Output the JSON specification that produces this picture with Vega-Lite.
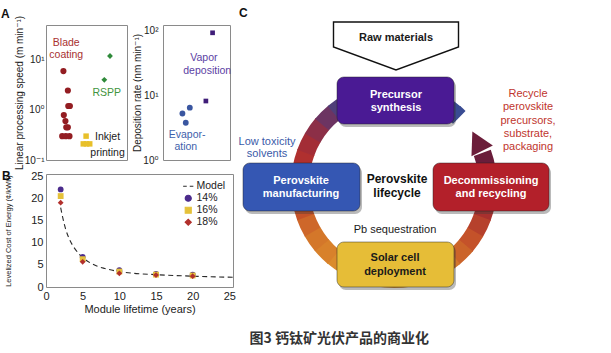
{
  "$schema": "https://vega.github.io/schema/vega-lite/v6.json",
  "padding": {"left": 0, "top": 7, "right": 2, "bottom": 4},
  "background": "white",
  "config": {
    "font": "Liberation Sans, Arial, Helvetica, DejaVu Sans, sans-serif",
    "view": {"stroke": "#8a8a8a", "strokeWidth": 1},
    "axis": {"domain": false, "ticks": false, "grid": false, "labelColor": "#222222", "titleColor": "#222222", "titleFontWeight": "normal", "labelFlush": false}
  },
  "title": {"text": "图3 钙钛矿光伏产品的商业化", "orient": "bottom", "anchor": "middle", "dx": 36, "offset": 17, "font": "Noto Sans CJK SC", "fontSize": 14, "fontWeight": "bold", "color": "#333333"},
  "datasets": {
    "speed": [
      {"kind": "pt", "method": "Blade coating", "x": 2.15, "v": 6.0},
      {"kind": "pt", "method": "Blade coating", "x": 2.7, "v": 2.45},
      {"kind": "pt", "method": "Blade coating", "x": 2.75, "v": 1.2},
      {"kind": "pt", "method": "Blade coating", "x": 2.95, "v": 1.2},
      {"kind": "pt", "method": "Blade coating", "x": 2.2, "v": 0.79},
      {"kind": "pt", "method": "Blade coating", "x": 2.4, "v": 0.6},
      {"kind": "pt", "method": "Blade coating", "x": 2.5, "v": 0.45},
      {"kind": "pt", "method": "Blade coating", "x": 2.7, "v": 0.45},
      {"kind": "pt", "method": "Blade coating", "x": 2.0, "v": 0.3},
      {"kind": "pt", "method": "Blade coating", "x": 2.45, "v": 0.3},
      {"kind": "pt", "method": "Blade coating", "x": 2.9, "v": 0.3},
      {"kind": "pt", "method": "RSPP", "x": 7.9, "v": 12},
      {"kind": "pt", "method": "RSPP", "x": 7.2, "v": 4.0},
      {"kind": "pt", "method": "Inkjet printing", "x": 4.95, "v": 0.3},
      {"kind": "pt", "method": "Inkjet printing", "x": 4.6, "v": 0.21},
      {"kind": "pt", "method": "Inkjet printing", "x": 5.0, "v": 0.21},
      {"kind": "pt", "method": "Inkjet printing", "x": 5.4, "v": 0.21},
      {"kind": "lbl", "method": "Blade coating", "label": "Blade", "x": 2.5, "v": 21.9},
      {"kind": "lbl", "method": "Blade coating", "label": "coating", "x": 2.5, "v": 12.6},
      {"kind": "lbl", "method": "RSPP", "label": "RSPP", "x": 7.5, "v": 2.19},
      {"kind": "lbl", "method": "Inkjet printing", "label": "Inkjet", "x": 7.6, "v": 0.288},
      {"kind": "lbl", "method": "Inkjet printing", "label": "printing", "x": 7.6, "v": 0.138}
    ],
    "rate": [
      {"kind": "pt", "method": "Vapor deposition", "x": 7.4, "v": 91},
      {"kind": "pt", "method": "Vapor deposition", "x": 6.4, "v": 8.1},
      {"kind": "pt", "method": "Evaporation", "x": 2.9, "v": 5.2},
      {"kind": "pt", "method": "Evaporation", "x": 4.0, "v": 6.4},
      {"kind": "pt", "method": "Evaporation", "x": 3.4, "v": 3.75},
      {"kind": "lbl", "method": "Vapor deposition", "label": "Vapor", "x": 6.1, "v": 37},
      {"kind": "lbl", "method": "Vapor deposition", "label": "deposition", "x": 6.6, "v": 23.3},
      {"kind": "lbl", "method": "Evaporation", "label": "Evapor-", "x": 3.6, "v": 2.42},
      {"kind": "lbl", "method": "Evaporation", "label": "ation", "x": 3.4, "v": 1.58}
    ],
    "lcoe": [
      {"series": "Model", "yr": 2, "c": 18.0},
      {"series": "Model", "yr": 2.3, "c": 15.6},
      {"series": "Model", "yr": 2.7, "c": 13.0},
      {"series": "Model", "yr": 3.2, "c": 10.8},
      {"series": "Model", "yr": 3.8, "c": 9.0},
      {"series": "Model", "yr": 4.5, "c": 7.5},
      {"series": "Model", "yr": 5.2, "c": 6.4},
      {"series": "Model", "yr": 6, "c": 5.5},
      {"series": "Model", "yr": 7, "c": 4.7},
      {"series": "Model", "yr": 8, "c": 4.2},
      {"series": "Model", "yr": 10, "c": 3.5},
      {"series": "Model", "yr": 12, "c": 3.1},
      {"series": "Model", "yr": 15, "c": 2.8},
      {"series": "Model", "yr": 20, "c": 2.45},
      {"series": "Model", "yr": 25.5, "c": 2.2},
      {"series": "14%", "yr": 2, "c": 22.1},
      {"series": "14%", "yr": 5, "c": 6.8},
      {"series": "14%", "yr": 10, "c": 3.8},
      {"series": "14%", "yr": 15, "c": 2.95},
      {"series": "14%", "yr": 20, "c": 2.8},
      {"series": "16%", "yr": 2, "c": 20.6},
      {"series": "16%", "yr": 5, "c": 6.3},
      {"series": "16%", "yr": 10, "c": 3.5},
      {"series": "16%", "yr": 15, "c": 2.8},
      {"series": "16%", "yr": 20, "c": 2.6},
      {"series": "18%", "yr": 2, "c": 19.1},
      {"series": "18%", "yr": 5, "c": 5.7},
      {"series": "18%", "yr": 10, "c": 3.1},
      {"series": "18%", "yr": 15, "c": 2.7},
      {"series": "18%", "yr": 20, "c": 2.45}
    ],
    "ring": [
      {"t1": 70, "t2": 80.5}, {"t1": 80, "t2": 90.5}, {"t1": 90, "t2": 100.5}, {"t1": 100, "t2": 110.5},
      {"t1": 110, "t2": 120.5}, {"t1": 120, "t2": 130.5}, {"t1": 130, "t2": 140.5}, {"t1": 140, "t2": 150.5},
      {"t1": 150, "t2": 160.5}, {"t1": 160, "t2": 170.5}, {"t1": 170, "t2": 180.5}, {"t1": 180, "t2": 190.5},
      {"t1": 190, "t2": 200.5}, {"t1": 200, "t2": 210.5}, {"t1": 210, "t2": 220.5}, {"t1": 220, "t2": 230.5},
      {"t1": 230, "t2": 240.5}, {"t1": 240, "t2": 250.5}, {"t1": 250, "t2": 260.5}, {"t1": 260, "t2": 270.5},
      {"t1": 270, "t2": 280.5}, {"t1": 280, "t2": 290.5}, {"t1": 290, "t2": 300.5}, {"t1": 300, "t2": 310.5},
      {"t1": 310, "t2": 320.5}, {"t1": 320, "t2": 330.5}, {"t1": 330, "t2": 340.5}, {"t1": 340, "t2": 350.5},
      {"t1": 350, "t2": 360.5}, {"t1": 360, "t2": 370.5}, {"t1": 370, "t2": 380.5}, {"t1": 380, "t2": 390.5},
      {"t1": 390, "t2": 400.5}, {"t1": 400, "t2": 404}
    ],
    "head": [{"x": 239.8, "y": 135.3}],
    "inputs": [{"name": "Raw materials", "x": 158, "y": 39}],
    "boxes": [
      {"stage": "Precursor synthesis", "x1": 99, "x2": 216, "y1": 70, "y2": 117},
      {"stage": "Perovskite manufacturing", "x1": 5, "x2": 122, "y1": 156, "y2": 204},
      {"stage": "Decommissioning and recycling", "x1": 195, "x2": 311, "y1": 156, "y2": 204},
      {"stage": "Solar cell deployment", "x1": 99, "x2": 216, "y1": 235, "y2": 280}
    ],
    "notes": [
      {"g": "white", "t": "Precursor", "x": 158, "y": 88},
      {"g": "white", "t": "synthesis", "x": 158, "y": 101},
      {"g": "white", "t": "Perovskite", "x": 63, "y": 174},
      {"g": "white", "t": "manufacturing", "x": 63, "y": 187},
      {"g": "white", "t": "Decommissioning", "x": 253, "y": 174},
      {"g": "white", "t": "and recycling", "x": 253, "y": 187},
      {"g": "dark", "t": "Solar cell", "x": 157, "y": 251},
      {"g": "dark", "t": "deployment", "x": 157, "y": 265},
      {"g": "dark", "t": "Raw materials", "x": 158, "y": 31},
      {"g": "center", "t": "Perovskite", "x": 159, "y": 172},
      {"g": "center", "t": "lifecycle", "x": 159, "y": 186},
      {"g": "plain", "t": "Pb sequestration", "x": 157, "y": 223},
      {"g": "blue", "t": "Low toxicity", "x": 29, "y": 135},
      {"g": "blue", "t": "solvents", "x": 29, "y": 147},
      {"g": "red", "t": "Recycle", "x": 290, "y": 87},
      {"g": "red", "t": "perovskite", "x": 290, "y": 100},
      {"g": "red", "t": "precursors,", "x": 290, "y": 114},
      {"g": "red", "t": "substrate,", "x": 290, "y": 127},
      {"g": "red", "t": "packaging", "x": 290, "y": 140},
      {"g": "panel", "t": "C", "x": 1, "y": 6}
    ]
  },
  "spacing": 2,
  "resolve": {"scale": {"color": "independent", "shape": "independent", "size": "independent", "fill": "independent"}, "legend": {"color": "independent", "shape": "independent", "size": "independent", "fill": "independent"}},
  "hconcat": [
    {
      "spacing": -2,
      "resolve": {"scale": {"color": "independent", "shape": "independent", "size": "independent"}, "legend": {"color": "independent", "shape": "independent", "size": "independent"}},
      "vconcat": [
        {
          "spacing": 36,
          "bounds": "flush",
          "resolve": {"scale": {"color": "independent", "shape": "independent", "size": "independent"}, "legend": {"color": "independent", "shape": "independent", "size": "independent"}},
          "hconcat": [
            {
              "width": 81, "height": 135,
              "title": {"text": "A", "anchor": "start", "frame": "group", "dx": -45, "offset": -11, "baseline": "middle", "fontSize": 12, "fontWeight": "bold", "color": "#111111"},
              "data": {"name": "speed"},
              "resolve": {"scale": {"color": "independent"}},
              "layer": [
                {
                  "transform": [{"filter": "datum.kind == 'pt'"}],
                  "mark": {"type": "point", "filled": true, "opacity": 1},
                  "encoding": {
                    "x": {"field": "x", "type": "quantitative", "scale": {"domain": [0, 10], "nice": false, "zero": false}, "axis": null},
                    "y": {"field": "v", "type": "quantitative", "scale": {"type": "log", "domain": [0.1, 50], "nice": false}, "axis": {"values": [0.1, 1, 10], "labelExpr": "datum.value > 5 ? '10¹' : (datum.value > 0.5 ? '10⁰' : '10⁻¹')", "title": "Linear processing speed (m min⁻¹)", "titleFontSize": 10, "labelFontSize": 10, "labelPadding": 2, "titlePadding": 0}},
                    "color": {"field": "method", "type": "nominal", "scale": {"domain": ["Blade coating", "RSPP", "Inkjet printing"], "range": ["#931d22", "#2f8a3a", "#e8c02a"]}, "legend": null},
                    "shape": {"field": "method", "type": "nominal", "scale": {"domain": ["Blade coating", "RSPP", "Inkjet printing"], "range": ["circle", "diamond", "square"]}, "legend": null},
                    "size": {"field": "method", "type": "nominal", "scale": {"domain": ["Blade coating", "RSPP", "Inkjet printing"], "range": [38, 30, 18]}, "legend": null}
                  }
                },
                {
                  "transform": [{"filter": "datum.kind == 'lbl' && datum.method != 'Inkjet printing'"}],
                  "mark": {"type": "text", "fontSize": 10.5, "baseline": "middle"},
                  "encoding": {
                    "x": {"field": "x", "type": "quantitative"},
                    "y": {"field": "v", "type": "quantitative"},
                    "text": {"field": "label"},
                    "color": {"field": "method", "type": "nominal", "scale": {"domain": ["Blade coating", "RSPP"], "range": ["#a8302f", "#3f9440"]}, "legend": null}
                  }
                },
                {
                  "transform": [{"filter": "datum.kind == 'lbl' && datum.method == 'Inkjet printing'"}],
                  "mark": {"type": "text", "fontSize": 10.5, "baseline": "middle", "color": "#1a1a1a"},
                  "encoding": {
                    "x": {"field": "x", "type": "quantitative"},
                    "y": {"field": "v", "type": "quantitative"},
                    "text": {"field": "label"}
                  }
                }
              ]
            },
            {
              "width": 67, "height": 135,
              "data": {"name": "rate"},
              "resolve": {"scale": {"color": "independent"}},
              "layer": [
                {
                  "transform": [{"filter": "datum.kind == 'pt'"}],
                  "mark": {"type": "point", "filled": true, "opacity": 1},
                  "encoding": {
                    "x": {"field": "x", "type": "quantitative", "scale": {"domain": [0, 10], "nice": false, "zero": false}, "axis": null},
                    "y": {"field": "v", "type": "quantitative", "scale": {"type": "log", "domain": [1, 120], "nice": false}, "axis": {"values": [1, 10, 100], "labelExpr": "datum.value > 50 ? '10²' : (datum.value > 5 ? '10¹' : '10⁰')", "title": "Deposition rate (nm min⁻¹)", "titleFontSize": 10, "labelFontSize": 10, "labelPadding": 5, "titlePadding": 0}},
                    "color": {"field": "method", "type": "nominal", "scale": {"domain": ["Vapor deposition", "Evaporation"], "range": ["#3f1d78", "#3a56a0"]}, "legend": null},
                    "shape": {"field": "method", "type": "nominal", "scale": {"domain": ["Vapor deposition", "Evaporation"], "range": ["square", "circle"]}, "legend": null},
                    "size": {"field": "method", "type": "nominal", "scale": {"domain": ["Vapor deposition", "Evaporation"], "range": [22, 34]}, "legend": null}
                  }
                },
                {
                  "transform": [{"filter": "datum.kind == 'lbl'"}],
                  "mark": {"type": "text", "fontSize": 10.5, "baseline": "middle"},
                  "encoding": {
                    "x": {"field": "x", "type": "quantitative"},
                    "y": {"field": "v", "type": "quantitative"},
                    "text": {"field": "label"},
                    "color": {"field": "method", "type": "nominal", "scale": {"domain": ["Vapor deposition", "Evaporation"], "range": ["#5b3ea3", "#3e5fab"]}, "legend": null}
                  }
                }
              ]
            }
          ]
        },
        {
          "width": 187, "height": 113,
          "title": {"text": "B", "anchor": "start", "frame": "group", "dx": -44, "offset": -17, "baseline": "middle", "fontSize": 12, "fontWeight": "bold", "color": "#111111"},
          "data": {"name": "lcoe"},
          "encoding": {
            "x": {"field": "yr", "type": "quantitative", "scale": {"domain": [0, 25.5], "nice": false, "zero": false}, "axis": {"values": [0, 5, 10, 15, 20, 25], "title": "Module lifetime (years)", "labelFontSize": 11, "titleFontSize": 11, "labelPadding": 3, "titlePadding": 2}},
            "y": {"field": "c", "type": "quantitative", "scale": {"domain": [0, 25.6], "nice": false, "zero": false}, "axis": {"values": [0, 5, 10, 15, 20, 25], "title": "Levelized Cost of Energy (¢/kWh)", "labelFontSize": 11, "titleFontSize": 7.5, "labelPadding": 3, "titlePadding": 18}},
            "color": {"field": "series", "type": "nominal", "scale": {"domain": ["Model", "14%", "16%", "18%"], "range": ["#2a2a2a", "#4b2b8c", "#e5c13a", "#b2302c"]}, "legend": {"orient": "top-right", "offset": 7, "title": null, "labelFontSize": 10.5, "labelColor": "#222222", "symbolSize": 36, "rowPadding": 0, "labelOffset": 3, "padding": 0, "symbolStrokeWidth": 1.2}}
          },
          "layer": [
            {
              "transform": [{"filter": "datum.series == 'Model'"}],
              "mark": {"type": "line", "strokeDash": [5, 3.5], "strokeWidth": 1.1, "interpolate": "monotone"}
            },
            {
              "transform": [{"filter": "datum.series != 'Model'"}],
              "mark": {"type": "point", "filled": true, "opacity": 1, "size": 34},
              "encoding": {
                "shape": {"field": "series", "type": "nominal", "scale": {"domain": ["Model", "14%", "16%", "18%"], "range": ["M -1.7 0 L -0.5 0 M 0.5 0 L 1.7 0", "circle", "square", "diamond"]}, "legend": {"orient": "top-right", "offset": 7, "title": null, "labelFontSize": 10.5, "labelColor": "#222222", "symbolSize": 36, "rowPadding": 0, "labelOffset": 3, "padding": 0, "symbolStrokeWidth": 1.2}}
              }
            }
          ]
        }
      ]
    },
    {
      "width": 368, "height": 287,
      "view": {"stroke": null},
      "layer": [
        {
          "data": {"name": "ring"},
          "mark": {"type": "arc", "innerRadius": 85, "outerRadius": 103},
          "encoding": {
            "x": {"datum": 156, "type": "quantitative", "scale": {"domain": [0, 368], "nice": false, "zero": false}, "axis": null},
            "y": {"datum": 178, "type": "quantitative", "scale": {"domain": [18, 305], "reverse": true, "nice": false, "zero": false}, "axis": null},
            "theta": {"field": "t1", "type": "quantitative", "scale": {"domain": [0, 360]}, "stack": null},
            "theta2": {"field": "t2"},
            "color": {"field": "t1", "type": "quantitative", "scale": {"type": "linear", "domain": [70, 78, 100, 120, 145, 175, 205, 235, 250, 280, 295, 310, 325, 350, 404], "range": ["#6a1d3a", "#7a2036", "#a8302e", "#c4522a", "#d6802b", "#e09a30", "#dd902c", "#d2722a", "#c65229", "#b0302f", "#9c2c3a", "#6c3462", "#404585", "#35488f", "#3a4c93"], "interpolate": "rgb"}, "legend": null}
          }
        },
        {
          "data": {"name": "head"},
          "mark": {"type": "point", "shape": "M 0 -1 L 1 0.8 L -1 0.8 Z", "size": 576, "filled": true, "color": "#6c1e3a", "opacity": 1, "angle": 333},
          "encoding": {
            "x": {"field": "x", "type": "quantitative"},
            "y": {"field": "y", "type": "quantitative"}
          }
        },
        {
          "data": {"name": "boxes"},
          "mark": {"type": "rect", "cornerRadius": 7, "color": "#3a3a3a", "opacity": 0.35, "xOffset": 2, "x2Offset": 2, "yOffset": 3, "y2Offset": 3},
          "encoding": {
            "x": {"field": "x1", "type": "quantitative"},
            "x2": {"field": "x2"},
            "y": {"field": "y1", "type": "quantitative"},
            "y2": {"field": "y2"}
          }
        },
        {
          "data": {"name": "boxes"},
          "mark": {"type": "rect", "cornerRadius": 7, "stroke": "#222222", "strokeOpacity": 0.45, "strokeWidth": 1},
          "encoding": {
            "x": {"field": "x1", "type": "quantitative"},
            "x2": {"field": "x2"},
            "y": {"field": "y1", "type": "quantitative"},
            "y2": {"field": "y2"},
            "fill": {"field": "stage", "type": "nominal", "scale": {"domain": ["Precursor synthesis", "Perovskite manufacturing", "Decommissioning and recycling", "Solar cell deployment"], "range": ["#4a1a94", "#3557b3", "#b3202a", "#e6bd37"]}, "legend": null}
          }
        },
        {
          "data": {"name": "inputs"},
          "mark": {"type": "point", "shape": "M -1 -0.384 L 1 -0.384 L 1 0.016 L 0 0.384 L -1 0.016 Z", "size": 15625, "filled": true, "fill": "#ffffff", "stroke": "#111111", "strokeWidth": 1.4, "opacity": 1},
          "encoding": {
            "x": {"field": "x", "type": "quantitative"},
            "y": {"field": "y", "type": "quantitative"}
          }
        },
        {
          "data": {"name": "notes"},
          "transform": [{"filter": "datum.g == 'white'"}],
          "mark": {"type": "text", "fontSize": 11, "fontWeight": "bold", "color": "#ffffff", "baseline": "middle"},
          "encoding": {"x": {"field": "x", "type": "quantitative"}, "y": {"field": "y", "type": "quantitative"}, "text": {"field": "t"}}
        },
        {
          "data": {"name": "notes"},
          "transform": [{"filter": "datum.g == 'dark'"}],
          "mark": {"type": "text", "fontSize": 11, "fontWeight": "bold", "color": "#1a1a1a", "baseline": "middle"},
          "encoding": {"x": {"field": "x", "type": "quantitative"}, "y": {"field": "y", "type": "quantitative"}, "text": {"field": "t"}}
        },
        {
          "data": {"name": "notes"},
          "transform": [{"filter": "datum.g == 'center'"}],
          "mark": {"type": "text", "fontSize": 12, "fontWeight": "bold", "color": "#111111", "baseline": "middle"},
          "encoding": {"x": {"field": "x", "type": "quantitative"}, "y": {"field": "y", "type": "quantitative"}, "text": {"field": "t"}}
        },
        {
          "data": {"name": "notes"},
          "transform": [{"filter": "datum.g == 'plain'"}],
          "mark": {"type": "text", "fontSize": 11, "color": "#1a1a1a", "baseline": "middle"},
          "encoding": {"x": {"field": "x", "type": "quantitative"}, "y": {"field": "y", "type": "quantitative"}, "text": {"field": "t"}}
        },
        {
          "data": {"name": "notes"},
          "transform": [{"filter": "datum.g == 'blue'"}],
          "mark": {"type": "text", "fontSize": 11, "color": "#3a5aa8", "baseline": "middle"},
          "encoding": {"x": {"field": "x", "type": "quantitative"}, "y": {"field": "y", "type": "quantitative"}, "text": {"field": "t"}}
        },
        {
          "data": {"name": "notes"},
          "transform": [{"filter": "datum.g == 'red'"}],
          "mark": {"type": "text", "fontSize": 11, "color": "#c0352d", "baseline": "middle"},
          "encoding": {"x": {"field": "x", "type": "quantitative"}, "y": {"field": "y", "type": "quantitative"}, "text": {"field": "t"}}
        },
        {
          "data": {"name": "notes"},
          "transform": [{"filter": "datum.g == 'panel'"}],
          "mark": {"type": "text", "fontSize": 12, "fontWeight": "bold", "color": "#111111", "baseline": "middle", "align": "left"},
          "encoding": {"x": {"field": "x", "type": "quantitative"}, "y": {"field": "y", "type": "quantitative"}, "text": {"field": "t"}}
        }
      ]
    }
  ]
}
